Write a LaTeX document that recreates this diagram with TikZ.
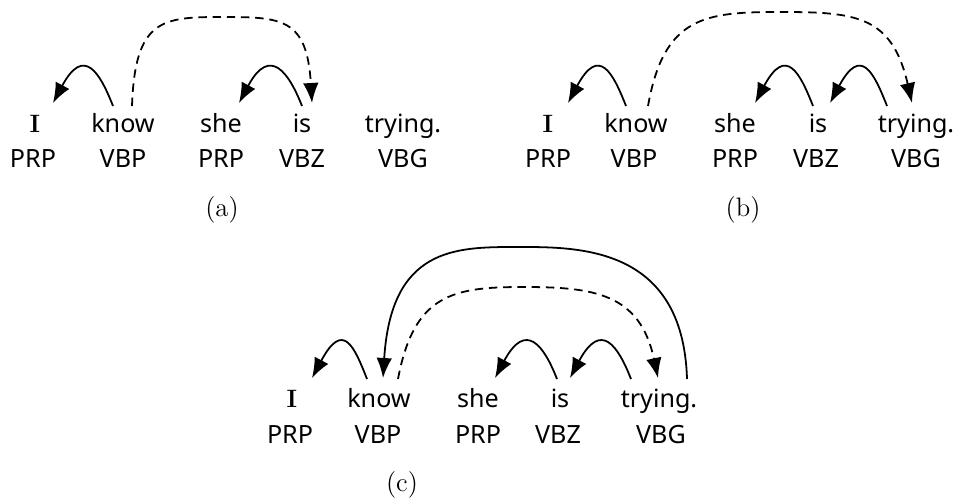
\documentclass[tikz,border=0pt]{standalone}
\usepackage{fontspec}
\newfontfamily\tokfont{Noto Sans}
\usetikzlibrary{arrows.meta}

\begin{document}
\begin{tikzpicture}[x=0.45pt, y=-0.45pt,
    word/.style={anchor=base, inner sep=0pt, font=\tokfont\fontsize{11.3}{13}\selectfont},
    tag/.style={anchor=base, inner sep=0pt, font=\tokfont\fontsize{11.3}{13}\selectfont},
    subcap/.style={anchor=base, inner sep=0pt, font=\fontsize{12}{14}\selectfont},
    dep/.style={-{Latex[length=9pt,width=7pt]}, line width=0.8pt},
    ghost/.style={dep, dash pattern=on 3.8pt off 2.6pt}
  ]
  \useasboundingbox (0,0) rectangle (955,499);

  % (a)
  \node[word] (a1) at (35,132) {\rmfamily\bfseries I};
  \node[word] (a2) at (123,132) {know};
  \node[word] (a3) at (221,132) {she};
  \node[word] (a4) at (302,132) {is};
  \node[word] (a5) at (403,132) {trying.};
  \node[tag] (ta1) at (33,167) {PRP};
  \node[tag] (ta2) at (123,167) {VBP};
  \node[tag] (ta3) at (221,167) {PRP};
  \node[tag] (ta4) at (302,167) {VBZ};
  \node[tag] (ta5) at (403,167) {VBG};
  \node[subcap] (capa) at (222,216) {(a)};
  \coordinate (atop) at (222,17);

  \draw[dep] ([shift={(-10,-26)}]a2.base) .. controls +(-13,-33) and +(31,-58) .. ([shift={(18,-29)}]a1.base);
  \draw[dep] ([shift={(0,-26)}]a4.base) .. controls +(-13,-33) and +(31,-58) .. ([shift={(18,-29)}]a3.base);
  \draw[ghost] ([shift={(9,-26)}]a2.base) .. controls +(3,-87) and +(-60,0) .. (atop)
    .. controls +(60,0) and +(-5,-85) .. ([shift={(10,-29)}]a4.base);

  % (b)
  \node[word] (b1) at (548,132) {\rmfamily\bfseries I};
  \node[word] (b2) at (636,132) {know};
  \node[word] (b3) at (735,132) {she};
  \node[word] (b4) at (818,132) {is};
  \node[word] (b5) at (916,132) {trying.};
  \node[tag] (tb1) at (548,167) {PRP};
  \node[tag] (tb2) at (634,167) {VBP};
  \node[tag] (tb3) at (735,167) {PRP};
  \node[tag] (tb4) at (816,167) {VBZ};
  \node[tag] (tb5) at (916,167) {VBG};
  \node[subcap] (capb) at (743,216) {(b)};
  \coordinate (btop) at (780,12);

  \draw[dep] ([shift={(-10,-26)}]b2.base) .. controls +(-13,-33) and +(31,-58) .. ([shift={(20,-29)}]b1.base);
  \draw[dep] ([shift={(-5,-26)}]b4.base) .. controls +(-13,-33) and +(31,-58) .. ([shift={(20,-29)}]b3.base);
  \draw[dep] ([shift={(-29,-26)}]b5.base) .. controls +(-13,-33) and +(31,-58) .. ([shift={(12,-29)}]b4.base);
  \draw[ghost] ([shift={(12,-26)}]b2.base) .. controls +(16,-90) and +(-75,0) .. (btop)
    .. controls +(75,0) and +(-20,-88) .. ([shift={(-4,-29)}]b5.base);

  % (c)
  \node[word] (c1) at (292,407) {\rmfamily\bfseries I};
  \node[word] (c2) at (379,407) {know};
  \node[word] (c3) at (478,407) {she};
  \node[word] (c4) at (560,407) {is};
  \node[word] (c5) at (659,407) {trying.};
  \node[tag] (tc1) at (290,443) {PRP};
  \node[tag] (tc2) at (378,443) {VBP};
  \node[tag] (tc3) at (478,443) {PRP};
  \node[tag] (tc4) at (558,443) {VBZ};
  \node[tag] (tc5) at (661,443) {VBG};
  \node[subcap] (capc) at (402,491) {(c)};
  \coordinate (ctop) at (523,287);
  \coordinate (rtop) at (515,247);

  \draw[dep] ([shift={(-12,-28)}]c2.base) .. controls +(-13,-33) and +(31,-58) .. ([shift={(20,-29)}]c1.base);
  \draw[dep] ([shift={(-3,-28)}]c4.base) .. controls +(-13,-33) and +(31,-58) .. ([shift={(17,-29)}]c3.base);
  \draw[dep] ([shift={(-28,-28)}]c5.base) .. controls +(-13,-33) and +(31,-58) .. ([shift={(10,-29)}]c4.base);
  \draw[ghost] ([shift={(19,-28)}]c2.base) .. controls +(16,-85) and +(-70,0) .. (ctop)
    .. controls +(70,0) and +(-18,-85) .. ([shift={(-1,-29)}]c5.base);
  \draw[dep] ([shift={(28,-28)}]c5.base) .. controls +(-4,-135) and +(60,0) .. (rtop)
    .. controls +(-60,0) and +(8,-130) .. ([shift={(4,-29)}]c2.base);
\end{tikzpicture}
\end{document}
